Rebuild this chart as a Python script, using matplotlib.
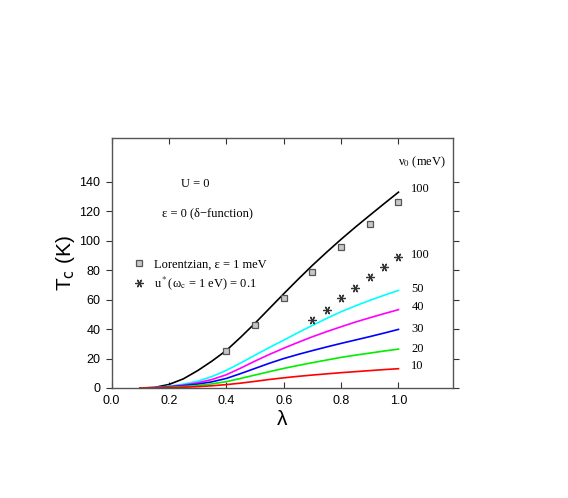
import numpy as np
import matplotlib
matplotlib.use('Agg')
from matplotlib import pyplot as plt

# lambda grid for the computed curves
lam = [0.10, 0.15, 0.20, 0.25, 0.30, 0.35, 0.40, 0.45, 0.50, 0.55,
       0.60, 0.65, 0.70, 0.75, 0.80, 0.85, 0.90, 0.95, 1.00]

# Tc (K) for delta-function spectrum, nu_0 in meV
tc_100 = [0.0, 0.4, 2.4, 6.2, 11.8, 18.3, 25.5, 34.5, 44.0, 54.0,
          64.0, 73.8, 83.3, 92.3, 101.0, 109.3, 117.3, 125.2, 133.0]
tc_50 = [0.0, 0.3, 1.2, 2.6, 4.6, 7.8, 12.0, 17.0, 22.3, 27.5,
         32.5, 37.6, 42.5, 47.3, 51.8, 55.8, 59.5, 63.0, 66.3]
tc_40 = [0.0, 0.2, 0.9, 2.0, 3.5, 5.8, 9.0, 13.5, 18.3, 22.8,
         27.0, 31.0, 34.8, 38.3, 41.6, 44.8, 47.7, 50.5, 53.2]
tc_30 = [0.0, 0.15, 0.7, 1.5, 2.6, 4.2, 6.5, 9.8, 13.3, 16.8,
         20.0, 22.8, 25.4, 27.9, 30.3, 32.6, 34.9, 37.3, 39.8]
tc_20 = [0.0, 0.1, 0.45, 1.0, 1.7, 2.8, 4.3, 6.5, 8.8, 11.1,
         13.3, 15.3, 17.2, 19.0, 20.8, 22.3, 23.7, 25.1, 26.4]
tc_10 = [0.0, 0.05, 0.25, 0.5, 0.9, 1.5, 2.3, 3.3, 4.5, 5.8,
         6.9, 7.9, 8.8, 9.6, 10.4, 11.1, 11.8, 12.5, 13.1]

curves = [tc_100, tc_50, tc_40, tc_30, tc_20, tc_10]
curve_colors = ['black', '#00ffff', '#ff00ff', '#0000ff', '#00ee00', '#ff0000']
curve_labels = ['100', '100', '50', '40', '30', '20', '10']
label_y = [135.4, 90.2, 66.9, 55.1, 39.8, 26.2, 14.9]

# Lorentzian, eps = 1 meV
lor_lam = [0.4, 0.5, 0.6, 0.7, 0.8, 0.9, 1.0]
lor_tc = [25.3, 42.7, 61.2, 78.9, 95.8, 111.6, 126.3]

# u*(wc = 1 eV) = 0.1
mu_lam = [0.70, 0.75, 0.80, 0.85, 0.90, 0.95, 1.00]
mu_tc = [45.9, 53.3, 60.8, 68.0, 75.3, 82.3, 89.0]

serif = 'Liberation Serif'
sans = 'Liberation Sans'

fig = plt.figure(figsize=(5.68, 4.98), dpi=100)
ax = fig.add_axes([0.1965, 0.2209, 0.601, 0.5026])

for tc, c in zip(curves, curve_colors):
    ax.plot(lam, tc, color=c, lw=1.2)

ax.plot(lor_lam, lor_tc, ls='none', marker='s', ms=5, mfc='#c8c8c8', mec='#555555',
        mew=0.9, label='Lorentzian, ε = 1 meV')
ax.plot(mu_lam, mu_tc, ls='none', marker=(6, 2, 90), ms=6, color='#333333',
        mew=0.9, label='u$^*$(ω$_\\mathrm{c}$ = 1 eV) = 0.1')

for lab, y in zip(curve_labels, label_y):
    ax.text(1.045, y, lab, fontsize=9, family=serif, va='center', ha='left')
ax.text(1.0, 153.5, 'ν$_0$ (meV)', fontsize=9, family=serif, va='center', ha='left',
        math_fontfamily='stix')
ax.text(0.292, 138.8, 'U = 0', fontsize=9, family=serif, va='center', ha='center')
ax.text(0.175, 118.5, 'ε = 0 (δ−function)', fontsize=9, family=serif, va='center',
        ha='left')

leg = ax.legend(loc='upper left', bbox_to_anchor=(0.062, 0.517), frameon=False,
                handlelength=1.0, handletextpad=0.7, borderpad=0, borderaxespad=0,
                labelspacing=0.3, prop={'family': serif, 'size': 9})
for t in leg.get_texts():
    t.set_math_fontfamily('stix')

ax.set_xlim(0, 1.19)
ax.set_ylim(0, 170)
ax.set_xticks([0.0, 0.2, 0.4, 0.6, 0.8, 1.0])
ax.set_xticklabels(['0.0', '0.2', '0.4', '0.6', '0.8', '1.0'], family=sans, fontsize=9)
ax.set_yticks(range(0, 141, 20))
ax.set_yticklabels([str(v) for v in range(0, 141, 20)], family=sans, fontsize=9)

ax.tick_params(axis='both', which='both', top=True, right=True, length=4, width=0.8,
               color='#333333')
ax.tick_params(axis='x', direction='in', pad=5)
ax.tick_params(axis='y', direction='in', pad=4)
ax.tick_params(axis='y', which='both', left=True, direction='out')
for s in ax.spines.values():
    s.set_color('#555555')
    s.set_linewidth(1.0)

ax.set_xlabel('λ', family=sans, fontsize=15, labelpad=2)
ax.set_ylabel('T$_\\mathrm{c}$ (K)', family=sans, fontsize=15, labelpad=2,
              math_fontfamily='dejavusans')

fig.savefig('out.png', dpi=100)
